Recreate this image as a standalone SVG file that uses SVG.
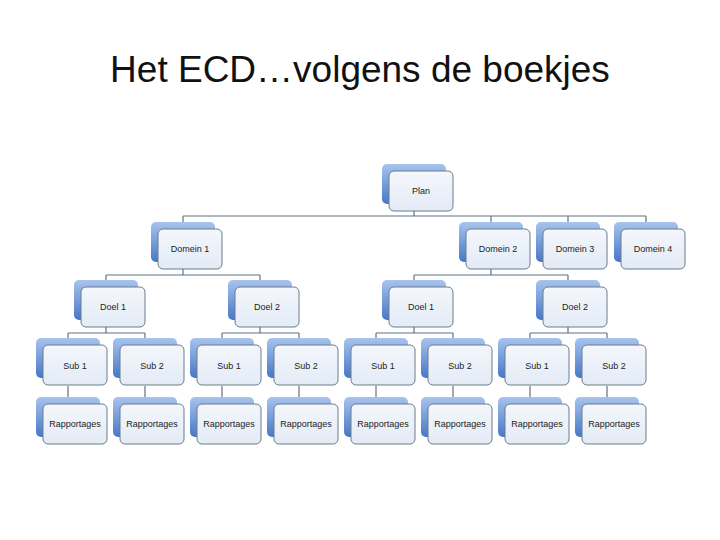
<svg xmlns="http://www.w3.org/2000/svg" width="720" height="540" viewBox="0 0 720 540">
<defs>
<linearGradient id="bg" x1="0" y1="0" x2="0" y2="1"><stop offset="0" stop-color="#a8c3ee"/><stop offset="1" stop-color="#4677c8"/></linearGradient>
<linearGradient id="fg" x1="0" y1="0" x2="0" y2="1"><stop offset="0" stop-color="#f4f7fc"/><stop offset="1" stop-color="#e3ebf6"/></linearGradient>
<g id="box"><rect x="-32" y="-7" width="64" height="40" rx="5" fill="url(#bg)"/><rect x="-25" y="0" width="64" height="40" rx="5" fill="url(#fg)" stroke="#6a7c8c" stroke-width="1"/></g>
</defs>
<style>
.t{font-family:"Liberation Sans",Arial,sans-serif;font-size:9px;fill:#222;text-anchor:middle}
.h{font-family:"Liberation Sans",Arial,sans-serif;font-size:37px;fill:#111;text-anchor:middle}
.c{stroke:#5f7282;stroke-width:1.2;fill:none}
</style>
<rect width="720" height="540" fill="#fff"/>
<text class="h" x="360" y="82">Het ECD…volgens de boekjes</text>
<g id="connectors" class="c">
<path d="M414 211V216M183 216H646M183 216V222M491 216V222M568 216V222M646 216V222"/>
<path d="M183 269V275M106 275H260M106 275V280M260 275V280"/>
<path d="M491 269V275M414 275H568M414 275V280M568 275V280"/>
<path d="M106 327V333M68 333H145M68 333V338M145 333V338"/>
<path d="M260 327V333M222 333H299M222 333V338M299 333V338"/>
<path d="M414 327V333M376 333H453M376 333V338M453 333V338"/>
<path d="M568 327V333M530 333H607M530 333V338M607 333V338"/>
<path d="M68 386V397M145 386V397M222 386V397M299 386V397M376 386V397M453 386V397M530 386V397M607 386V397"/>
</g>
<g id="plan"><use href="#box" x="414" y="171"/><text class="t" x="421" y="194">Plan</text></g>
<g id="domein1"><use href="#box" x="183" y="229"/><text class="t" x="190" y="252">Domein 1</text></g>
<g id="domein2"><use href="#box" x="491" y="229"/><text class="t" x="498" y="252">Domein 2</text></g>
<g id="domein3"><use href="#box" x="568" y="229"/><text class="t" x="575" y="252">Domein 3</text></g>
<g id="domein4"><use href="#box" x="646" y="229"/><text class="t" x="653" y="252">Domein 4</text></g>
<g id="doel1a"><use href="#box" x="106" y="287"/><text class="t" x="113" y="310">Doel 1</text></g>
<g id="doel2a"><use href="#box" x="260" y="287"/><text class="t" x="267" y="310">Doel 2</text></g>
<g id="doel1b"><use href="#box" x="414" y="287"/><text class="t" x="421" y="310">Doel 1</text></g>
<g id="doel2b"><use href="#box" x="568" y="287"/><text class="t" x="575" y="310">Doel 2</text></g>
<g id="sub1a"><use href="#box" x="68" y="345"/><text class="t" x="75" y="369">Sub 1</text></g>
<g id="sub2a"><use href="#box" x="145" y="345"/><text class="t" x="152" y="369">Sub 2</text></g>
<g id="sub1b"><use href="#box" x="222" y="345"/><text class="t" x="229" y="369">Sub 1</text></g>
<g id="sub2b"><use href="#box" x="299" y="345"/><text class="t" x="306" y="369">Sub 2</text></g>
<g id="sub1c"><use href="#box" x="376" y="345"/><text class="t" x="383" y="369">Sub 1</text></g>
<g id="sub2c"><use href="#box" x="453" y="345"/><text class="t" x="460" y="369">Sub 2</text></g>
<g id="sub1d"><use href="#box" x="530" y="345"/><text class="t" x="537" y="369">Sub 1</text></g>
<g id="sub2d"><use href="#box" x="607" y="345"/><text class="t" x="614" y="369">Sub 2</text></g>
<g id="rap1"><use href="#box" x="68" y="404"/><text class="t" x="75" y="427">Rapportages</text></g>
<g id="rap2"><use href="#box" x="145" y="404"/><text class="t" x="152" y="427">Rapportages</text></g>
<g id="rap3"><use href="#box" x="222" y="404"/><text class="t" x="229" y="427">Rapportages</text></g>
<g id="rap4"><use href="#box" x="299" y="404"/><text class="t" x="306" y="427">Rapportages</text></g>
<g id="rap5"><use href="#box" x="376" y="404"/><text class="t" x="383" y="427">Rapportages</text></g>
<g id="rap6"><use href="#box" x="453" y="404"/><text class="t" x="460" y="427">Rapportages</text></g>
<g id="rap7"><use href="#box" x="530" y="404"/><text class="t" x="537" y="427">Rapportages</text></g>
<g id="rap8"><use href="#box" x="607" y="404"/><text class="t" x="614" y="427">Rapportages</text></g>
</svg>
